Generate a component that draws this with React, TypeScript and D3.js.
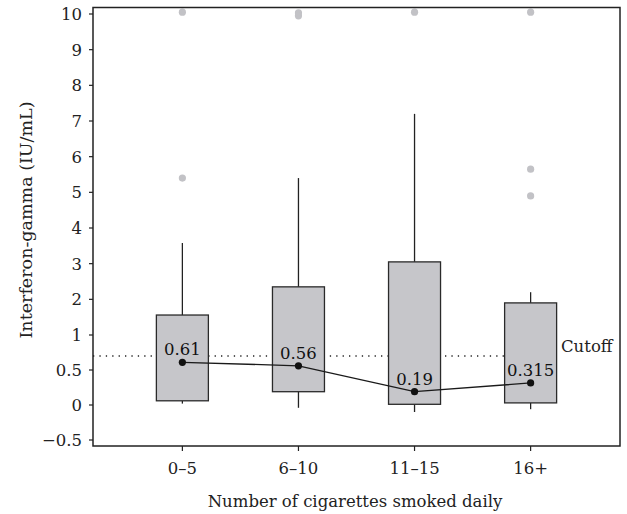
import React from 'react';
import * as d3 from 'd3';

// values
const categories = ['0–5', '6–10', '11–15', '16+'];
const q1 = [0.06, 0.19, 0.01, 0.03];
const q3 = [1.56, 2.35, 3.05, 1.9];
const whiskerLow = [0.02, -0.04, -0.1, -0.06];
const whiskerHigh = [3.58, 5.4, 7.2, 2.2];
const medians = [0.61, 0.56, 0.19, 0.315];
const medianLabels = ['0.61', '0.56', '0.19', '0.315'];
const outliers = [[10.05, 5.4], [10.03, 9.95], [10.05], [10.05, 5.65, 4.9]];
const yTicks = [-0.5, 0, 0.5, 1, 2, 3, 4, 5, 6, 7, 8, 9, 10];
const cutoff = 0.7;

const W = 627, H = 514;
const left = 93, right = 620, top = 7.5, bottom = 446;
const font = '"DejaVu Serif", "Liberation Serif", serif';
const fs = 16.5;

const App = () => {
  const x = d3.scalePoint<string>().domain(categories).range([left, right]).padding(0.77);
  // the axis is stretched below 1
  const y = d3.scaleLinear().domain([-0.5, 1, 10]).range([440, 335, 14]);
  const boxW = 52;

  const line = d3.line<number>()
    .x((_, i) => x(categories[i]) as number)
    .y(d => y(d));

  return (
    <svg width={W} height={H} style={{ position: 'absolute', left: 0, top: 0, background: '#fff' }}
      fontFamily={font}>
      {/* cutoff */}
      <line x1={left} x2={558} y1={y(cutoff)} y2={y(cutoff)} stroke="#222" strokeWidth={1.3} strokeDasharray="1.3,5.1" />
      <text x={561} y={y(cutoff) - 4} fontSize={fs} fill="#222">Cutoff</text>

      {categories.map((c, i) => {
        const cx = x(c) as number;
        return (
          <g key={c}>
            <line x1={cx} x2={cx} y1={y(q3[i])} y2={y(whiskerHigh[i])} stroke="#222" strokeWidth={1.3} />
            <line x1={cx} x2={cx} y1={y(q1[i])} y2={y(whiskerLow[i])} stroke="#222" strokeWidth={1.3} />
            <rect x={cx - boxW / 2} y={y(q3[i])} width={boxW} height={y(q1[i]) - y(q3[i])}
              fill="#c6c6ca" stroke="#2a2a2a" strokeWidth={1.3} />
            {outliers[i].map((o, j) => (
              <circle key={j} cx={cx} cy={y(o)} r={3.6} fill="#c2c2c6" />
            ))}
          </g>
        );
      })}

      <path d={line(medians) || ''} fill="none" stroke="#1a1a1a" strokeWidth={1.3} />
      {medians.map((m, i) => (
        <g key={i}>
          <circle cx={x(categories[i]) as number} cy={y(m)} r={3.6} fill="#111" />
          <text x={x(categories[i]) as number} y={y(m) - 7} textAnchor="middle" fontSize={fs} fill="#111">
            {medianLabels[i]}
          </text>
        </g>
      ))}

      {/* frame */}
      <rect x={left} y={top} width={right - left} height={bottom - top} fill="none" stroke="#222" strokeWidth={1.5} />

      {/* y axis */}
      {yTicks.map(t => (
        <g key={t}>
          <line x1={left - 4} x2={left} y1={y(t)} y2={y(t)} stroke="#222" strokeWidth={1.2} />
          <text x={82} y={y(t)} dy="0.36em" textAnchor="end" fontSize={fs} fill="#222">
            {t < 0 ? '−' + Math.abs(t) : String(t)}
          </text>
        </g>
      ))}
      <text transform="translate(32,220) rotate(-90)" textAnchor="middle" fontSize={17.5} fill="#222">
        Interferon-gamma (IU/mL)
      </text>

      {/* x axis */}
      {categories.map(c => (
        <g key={c}>
          <line x1={x(c) as number} x2={x(c) as number} y1={bottom} y2={bottom + 5} stroke="#222" strokeWidth={1.2} />
          <text x={x(c) as number} y={474} textAnchor="middle" fontSize={fs} fill="#222">{c}</text>
        </g>
      ))}
      <text x={355} y={507} textAnchor="middle" fontSize={fs} fill="#222">
        Number of cigarettes smoked daily
      </text>
    </svg>
  );
};

export default App;
